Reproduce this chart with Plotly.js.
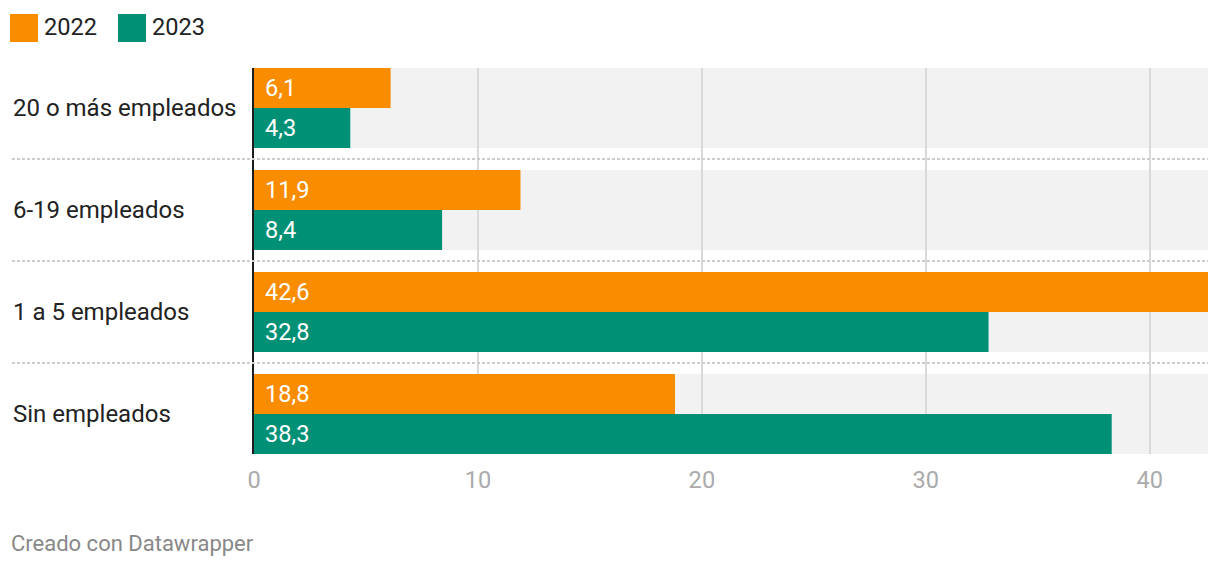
<!DOCTYPE html>
<html>
<head>
<meta charset="utf-8">
<script src="https://cdn.plot.ly/plotly-3.0.1.min.js"></script>
<style>
html,body{margin:0;padding:0;background:#fff;}
#chart{width:1220px;height:568px;}
</style>
</head>
<body>
<div id="chart"></div>
<script>
var categories = ["20 o más empleados", "6-19 empleados", "1 a 5 empleados", "Sin empleados"];
var values2022 = [6.1, 11.9, 42.6, 18.8];
var values2023 = [4.3, 8.4, 32.8, 38.3];
var seriesNames = ["2022", "2023"];
var xTicks = [0, 10, 20, 30, 40];
var footerText = "Creado con Datawrapper";

var colors = ["#fa8c00", "#009076"];
var W = 1220, H = 568;
var L = 254, R = 12, T = 68, B = 114;
var plotW = W - L - R, plotH = H - T - B;
function px(p){ return (p - L) / plotW; }
function py(p){ return (H - B - p) / plotH; }
var FONT = "Roboto, 'Open Sans', sans-serif";
var FS = 23.6;
var half = 0.392;

var traces = [
  {type:"bar", orientation:"h", name:seriesNames[0], y:categories, x:values2022,
   marker:{color:colors[0]}, hoverinfo:"none"},
  {type:"bar", orientation:"h", name:seriesNames[1], y:categories, x:values2023,
   marker:{color:colors[1]}, hoverinfo:"none"}
];

var shapes = [];
var annotations = [];
categories.forEach(function(c, i){
  shapes.push({type:"rect", layer:"below", xref:"paper", yref:"y",
    x0:0, x1:1, y0:i - half, y1:i + half, fillcolor:"#f2f2f2", line:{width:0}});
  if (i < categories.length - 1) {
    shapes.push({type:"line", layer:"above", xref:"paper", yref:"y",
      x0:px(12), x1:1, y0:i + 0.5, y1:i + 0.5,
      line:{color:"#cccccc", width:2, dash:"3px,2px"}});
  }
  annotations.push({xref:"paper", yref:"y", x:px(10.5), y:c, xanchor:"left", yanchor:"middle",
    text:c, showarrow:false, font:{family:FONT, size:24, color:"#222222"}});
  [values2022[i], values2023[i]].forEach(function(v, k){
    annotations.push({xref:"x", yref:"y", x:0, y:c, xanchor:"left", yanchor:"middle",
      xshift:9, yshift: k === 0 ? 20 : -20,
      text:v.toFixed(1).replace(".", ","), showarrow:false,
      font:{family:FONT, size:FS, color:"#ffffff"}});
  });
});

// legend
var legX = [10, 118];
seriesNames.forEach(function(n, k){
  shapes.push({type:"rect", xref:"paper", yref:"paper",
    x0:px(legX[k]), x1:px(legX[k] + 28), y0:py(42), y1:py(14),
    fillcolor:colors[k], line:{width:0}});
  annotations.push({xref:"paper", yref:"paper", x:px(legX[k] + 32), y:py(27),
    xanchor:"left", yanchor:"middle", text:n, showarrow:false,
    font:{family:FONT, size:FS, color:"#222222"}});
});

annotations.push({xref:"paper", yref:"paper", x:px(9), y:py(543), xanchor:"left", yanchor:"middle",
  text:footerText, showarrow:false, font:{family:FONT, size:22, color:"#888888"}});

var layout = {
  width:W, height:H,
  margin:{l:L, r:R, t:T, b:B, pad:0},
  paper_bgcolor:"#ffffff", plot_bgcolor:"rgba(0,0,0,0)",
  showlegend:false,
  barmode:"group", bargap:0.2157, bargroupgap:0,
  font:{family:FONT},
  xaxis:{range:[0, 42.6], tickvals:xTicks, ticktext:xTicks.map(String),
    showgrid:true, gridcolor:"#d9d9d9", gridwidth:2, zeroline:false,
    showline:false, ticks:"", ticklabelstandoff:9,
    tickfont:{family:FONT, size:FS, color:"#aaaaaa"},
    fixedrange:true},
  yaxis:{type:"category", categoryorder:"array", categoryarray:categories,
    range:[categories.length - 1 + half, -half],
    showticklabels:false, showgrid:false, zeroline:false, ticks:"",
    showline:true, linecolor:"#1d1d1d", linewidth:2, fixedrange:true},
  shapes:shapes, annotations:annotations
};

Plotly.newPlot("chart", traces, layout, {displayModeBar:false, staticPlot:true});
</script>
</body>
</html>
